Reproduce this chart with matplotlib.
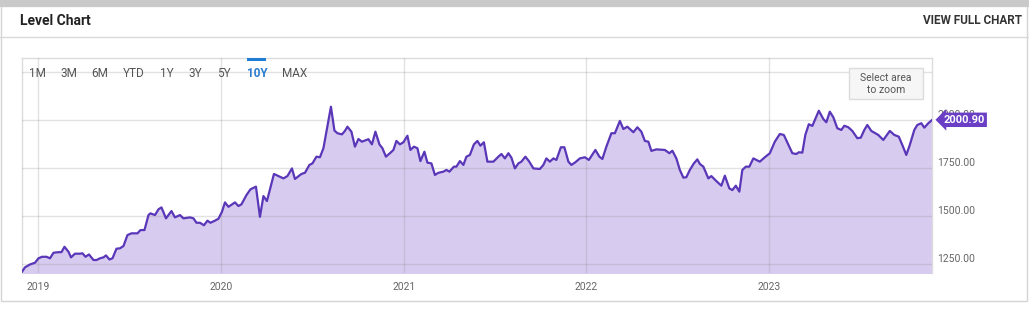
import matplotlib.pyplot as plt
import pandas as pd
from matplotlib.patches import Rectangle
from matplotlib.lines import Line2D
from matplotlib.transforms import ScaledTranslation

plt.rcParams['font.family'] = ['Roboto', 'DejaVu Sans']

dates = [
    '2018-11-29', '2018-12-05', '2018-12-15', '2018-12-25', '2019-01-01', '2019-01-08', '2019-01-17',
    '2019-01-24', '2019-01-31', '2019-02-10', '2019-02-16', '2019-02-22', '2019-03-02', '2019-03-07',
    '2019-03-15', '2019-03-25', '2019-03-30', '2019-04-05', '2019-04-12', '2019-04-21', '2019-04-27',
    '2019-05-04', '2019-05-11', '2019-05-16', '2019-05-23', '2019-05-29', '2019-06-06', '2019-06-13',
    '2019-06-20', '2019-06-28', '2019-07-06', '2019-07-18', '2019-07-24', '2019-08-01', '2019-08-09',
    '2019-08-13', '2019-08-22', '2019-08-29', '2019-09-04', '2019-09-13', '2019-09-24', '2019-10-01',
    '2019-10-11', '2019-10-18', '2019-10-31', '2019-11-07', '2019-11-13', '2019-11-20', '2019-11-28',
    '2019-12-05', '2019-12-11', '2019-12-20', '2019-12-27', '2020-01-03', '2020-01-09', '2020-01-16',
    '2020-01-29', '2020-02-05', '2020-02-11', '2020-02-21', '2020-02-29', '2020-03-11', '2020-03-19',
    '2020-03-26', '2020-04-02', '2020-04-16', '2020-05-05', '2020-05-13', '2020-05-22', '2020-05-28',
    '2020-06-10', '2020-06-17', '2020-06-26', '2020-07-02', '2020-07-10', '2020-07-17', '2020-07-24',
    '2020-08-08', '2020-08-15', '2020-08-21', '2020-08-30', '2020-09-05', '2020-09-10', '2020-09-18',
    '2020-09-25', '2020-10-02', '2020-10-09', '2020-10-22', '2020-10-29', '2020-11-05', '2020-11-13',
    '2020-11-19', '2020-11-26', '2020-12-04', '2020-12-11', '2020-12-17', '2020-12-24', '2020-12-31',
    '2021-01-08', '2021-01-14', '2021-01-21', '2021-01-28', '2021-02-03', '2021-02-11', '2021-02-17',
    '2021-02-25', '2021-03-04', '2021-03-11', '2021-03-21', '2021-03-27', '2021-04-02', '2021-04-11',
    '2021-04-16', '2021-04-23', '2021-04-30', '2021-05-06', '2021-05-13', '2021-05-21', '2021-05-28',
    '2021-06-03', '2021-06-10', '2021-06-17', '2021-06-29', '2021-07-09', '2021-07-15', '2021-07-22',
    '2021-07-29', '2021-08-04', '2021-08-11', '2021-08-18', '2021-08-24', '2021-09-01', '2021-09-08',
    '2021-09-17', '2021-09-30', '2021-10-07', '2021-10-13', '2021-10-20', '2021-10-27', '2021-11-02',
    '2021-11-11', '2021-11-18', '2021-11-26', '2021-12-02', '2021-12-10', '2021-12-19', '2021-12-29',
    '2022-01-06', '2022-01-19', '2022-01-27', '2022-02-02', '2022-02-10', '2022-02-20', '2022-02-27',
    '2022-03-09', '2022-03-16', '2022-03-24', '2022-04-05', '2022-04-13', '2022-04-21', '2022-04-28',
    '2022-05-05', '2022-05-11', '2022-05-21', '2022-06-07', '2022-06-16', '2022-06-22', '2022-06-30',
    '2022-07-07', '2022-07-14', '2022-07-20', '2022-07-27', '2022-08-04', '2022-08-11', '2022-08-16',
    '2022-08-23', '2022-09-02', '2022-09-08', '2022-09-18', '2022-09-28', '2022-10-05', '2022-10-14',
    '2022-10-20', '2022-10-27', '2022-11-03', '2022-11-09', '2022-11-16', '2022-11-23', '2022-12-01',
    '2022-12-14', '2022-12-24', '2023-01-03', '2023-01-13', '2023-01-23', '2023-01-31', '2023-02-11',
    '2023-02-17', '2023-02-25', '2023-03-02', '2023-03-09', '2023-03-15', '2023-03-22', '2023-03-29',
    '2023-04-11', '2023-04-20', '2023-04-26', '2023-05-03', '2023-05-10', '2023-05-18', '2023-05-26',
    '2023-06-01', '2023-06-09', '2023-06-17', '2023-06-27', '2023-07-04', '2023-07-11', '2023-07-17',
    '2023-07-25', '2023-08-02', '2023-08-08', '2023-08-18', '2023-08-31', '2023-09-09', '2023-09-18',
    '2023-09-25', '2023-10-03', '2023-10-10', '2023-10-19', '2023-10-25', '2023-11-02', '2023-11-08',
    '2023-11-16', '2023-11-24',
]
values = [
    1210, 1233, 1248, 1257, 1280, 1288, 1288, 1280, 1309, 1312, 1312, 1340, 1314, 1285,
    1304, 1304, 1306, 1288, 1300, 1271, 1271, 1280, 1285, 1295, 1274, 1280, 1330, 1332,
    1344, 1401, 1410, 1410, 1427, 1427, 1505, 1514, 1505, 1535, 1545, 1488, 1526, 1493,
    1505, 1488, 1493, 1488, 1465, 1465, 1452, 1476, 1465, 1476, 1486, 1522, 1571, 1548,
    1571, 1552, 1561, 1609, 1639, 1653, 1496, 1604, 1578, 1719, 1696, 1708, 1748, 1693,
    1719, 1725, 1766, 1774, 1809, 1806, 1853, 2069, 1945, 1931, 1925, 1943, 1965, 1939,
    1861, 1901, 1887, 1900, 1873, 1939, 1873, 1853, 1809, 1827, 1844, 1891, 1873, 1884,
    1918, 1844, 1861, 1853, 1786, 1835, 1778, 1774, 1714, 1725, 1731, 1740, 1731, 1757,
    1757, 1786, 1766, 1809, 1818, 1873, 1891, 1866, 1884, 1783, 1783, 1809, 1823, 1800,
    1827, 1804, 1748, 1774, 1783, 1809, 1786, 1748, 1745, 1766, 1800, 1783, 1800, 1792,
    1858, 1858, 1783, 1766, 1780, 1800, 1806, 1792, 1844, 1809, 1797, 1861, 1931, 1931,
    1995, 1953, 1965, 1936, 1962, 1939, 1891, 1887, 1839, 1847, 1844, 1827, 1840, 1800,
    1740, 1700, 1702, 1740, 1774, 1795, 1771, 1757, 1696, 1708, 1682, 1658, 1710, 1644,
    1635, 1658, 1627, 1740, 1757, 1757, 1800, 1783, 1806, 1827, 1887, 1927, 1922, 1861,
    1827, 1823, 1832, 1830, 1922, 1978, 1969, 2048, 2005, 1988, 2043, 2014, 1957, 1948,
    1970, 1962, 1943, 1905, 1908, 1948, 1974, 1943, 1931, 1922, 1896, 1943, 1922, 1913,
    1870, 1818, 1870, 1948, 1974, 1983, 1960, 1983, 2000.90,
]

y_ticks = [1250, 1500, 1750, 2000, 2250]
y_labels = ['1250.00', '1500.00', '1750.00', '2000.00', '']
year_ticks = ['2019-01-01', '2020-01-01', '2021-01-01', '2022-01-01', '2023-01-01']
year_labels = ['2019', '2020', '2021', '2022', '2023']
ranges = ['1M', '3M', '6M', 'YTD', '1Y', '3Y', '5Y', '10Y', 'MAX']
selected = '10Y'

x = pd.to_datetime(dates)

W, H = 1029, 314
fig = plt.figure(figsize=(W / 100, H / 100), dpi=100)


def fx(px):
    return px / W


def fy(py):
    return 1 - py / H


# card frame and header
fig.patches.append(Rectangle((fx(1), fy(301)), fx(1027) - fx(1), fy(6) - fy(301),
                             transform=fig.transFigure, fill=False, ec='#d4d4d4', lw=1))
fig.patches.append(Rectangle((0, fy(7)), 1, fy(0) - fy(7), transform=fig.transFigure,
                             fc='#c9c9c9', ec='none'))
fig.add_artist(Line2D([0, 1], [fy(37), fy(37)], color='#d9d9d9', lw=1))
fig.text(fx(20), fy(21), 'Level Chart', fontsize=10, fontweight='bold', color='#222222', va='center')
fig.text(fx(1022), fy(21), 'VIEW FULL CHART', fontsize=8.5, fontweight='bold', color='#333333',
         ha='right', va='center')

ax = fig.add_axes([fx(22), fy(273.3), fx(932.3) - fx(22), fy(58.3) - fy(273.3)])
ax.fill_between(x, values, 1000, color='#d7ccf0', lw=0, zorder=1)
ax.plot(x, values, color='#5a36b8', lw=1.6, zorder=3, solid_joinstyle='round')

ax.set_xlim(pd.Timestamp('2018-11-29'), x[-1])
ax.set_ylim(1202, 2321)

ax.set_yticks(y_ticks, y_labels)
ax.set_xticks(pd.to_datetime(year_ticks), year_labels)
ax.yaxis.tick_right()
ax.tick_params(length=0, labelsize=7.5, labelcolor='#666666')
ax.tick_params(axis='y', pad=3.6)
ax.tick_params(axis='x', pad=6)
ax.grid(True, color='#8c8c8c', alpha=0.25, lw=1, zorder=2)
ax.set_axisbelow(False)
for lab in ax.get_yticklabels():
    lab.set_transform(lab.get_transform() + ScaledTranslation(0, 6 / 100, fig.dpi_scale_trans))

for side in ['top', 'left', 'right']:
    ax.spines[side].set_color('#dcdcdc')
    ax.spines[side].set_linewidth(1)
ax.spines['bottom'].set_visible(False)

# last value tag
ax.annotate(f'{values[-1]:.2f}', xy=(x[-1], values[-1]), xytext=(11, 0), textcoords='offset pixels',
            ha='left', va='center', color='white', fontsize=8, fontweight='bold',
            bbox=dict(boxstyle='larrow,pad=0.2', fc='#6a3fc6', ec='none'),
            annotation_clip=False, zorder=10)

# range selector
range_px = [37, 69, 100, 134, 167, 195, 224, 257, 295]
for label, px in zip(ranges, range_px):
    on = label == selected
    fig.text(fx(px), fy(73.5), label, fontsize=8.5, ha='center', va='center',
             color='#2a7cd0' if on else '#555555', fontweight='bold' if on else 'normal')
    if on:
        fig.patches.append(Rectangle((fx(247), fy(61)), fx(266) - fx(247), fy(58) - fy(61),
                                     transform=fig.transFigure, fc='#1f7dd3', ec='none'))

# zoom hint
fig.patches.append(Rectangle((fx(849), fy(99)), fx(923) - fx(849), fy(68) - fy(99),
                             transform=fig.transFigure, fc='#f6f6f6', ec='#dcdcdc', lw=1))
fig.text(fx(886), fy(84), 'Select area\nto zoom', fontsize=7.5, color='#555555',
         ha='center', va='center', linespacing=1.3)

fig.savefig('out.png', dpi=100)
plt.close()
